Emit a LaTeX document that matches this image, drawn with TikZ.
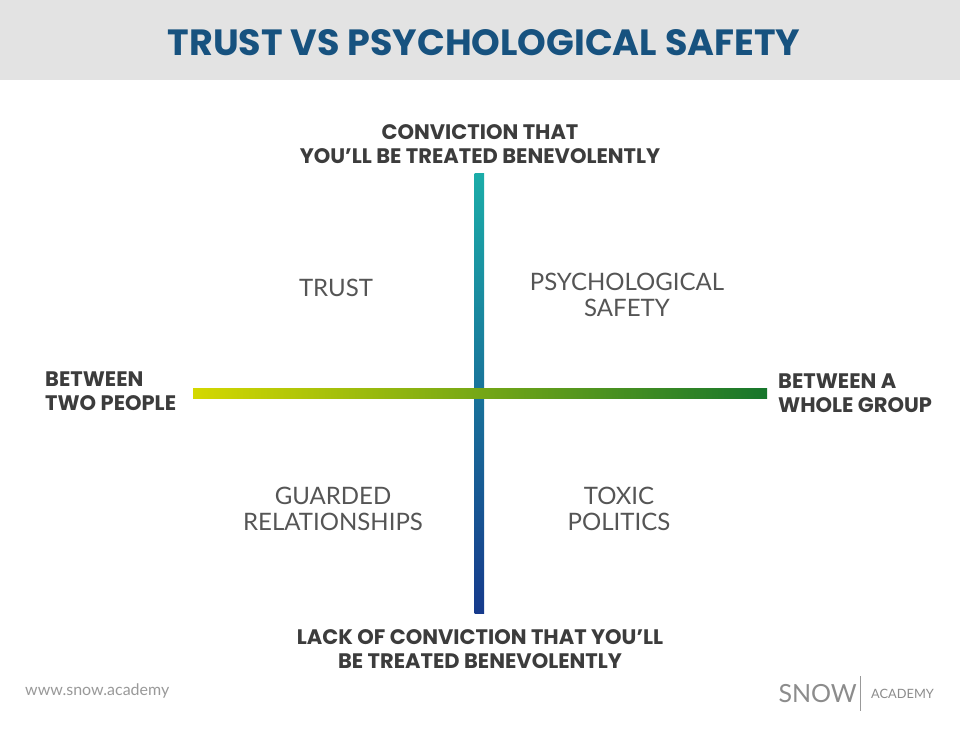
\documentclass[tikz,border=0pt]{standalone}
\usepackage{fontspec}
\setmainfont{Poppins}
\newfontfamily\lt{Lato}
\definecolor{titleblue}{HTML}{17527F}
\definecolor{hdr}{HTML}{E3E3E3}
\definecolor{lab}{HTML}{3C3C3C}
\definecolor{quad}{HTML}{555555}
\begin{document}
\begin{tikzpicture}[x=1pt,y=-1pt,
  axlab/.style={font=\fontsize{21}{24}\selectfont\bfseries, text=lab, align=center, inner sep=0},
  qlab/.style={font=\fontsize{24}{26}\selectfont\lt, text=quad, align=center, inner sep=0}]
\useasboundingbox (0,0) rectangle (960,728);
\fill[white] (0,0) rectangle (960,728);
\fill[hdr] (0,0) rectangle (960,80);
\node[font=\fontsize{36.5}{40}\selectfont\bfseries, text=titleblue] (title) at (484,43) {TRUST VS PSYCHOLOGICAL SAFETY};
\shade[top color={rgb,255:red,27;green,172;blue,168}, bottom color={rgb,255:red,22;green,58;blue,140}] (474.5,173) rectangle (484,613);
\shade[left color={rgb,255:red,212;green,216;blue,0}, right color={rgb,255:red,22;green,118;blue,44}] (193,388) rectangle (767,398);
\node[axlab] (top) at (480,144) {CONVICTION THAT\\YOU’LL BE TREATED BENEVOLENTLY};
\node[axlab] (bot) at (480,649) {LACK OF CONVICTION THAT YOU’LL\\BE TREATED BENEVOLENTLY};
\node[axlab, align=left, anchor=west] (left) at (45,391) {BETWEEN\\TWO PEOPLE};
\node[axlab, align=left, anchor=west] (right) at (778,393) {BETWEEN A\\WHOLE GROUP};
\node[qlab] (q1) at (336,288) {TRUST};
\node[qlab] (q2) at (627,295) {PSYCHOLOGICAL\\SAFETY};
\node[qlab] (q3) at (333,509) {GUARDED\\RELATIONSHIPS};
\node[qlab] (q4) at (619,509) {TOXIC\\POLITICS};
\node[font=\fontsize{16}{18}\selectfont\lt, text=gray!80, anchor=west, inner sep=0] (web) at (25,691) {www.snow.academy};
\node[font=\fontsize{25}{28}\selectfont\lt, text=gray!90, anchor=east, inner sep=0] (snow) at (857,694) {SNOW};
\draw[gray!80, line width=0.8] (860,676) -- (860,711);
\node[font=\fontsize{12.8}{15}\selectfont\lt, text=gray!90, anchor=west, inner sep=0] (acad) at (871,694) {ACADEMY};
\end{tikzpicture}
\end{document}
